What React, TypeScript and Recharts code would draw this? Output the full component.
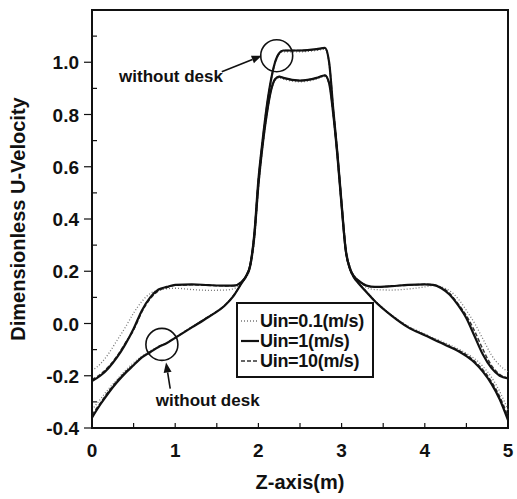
import { Label, Line, LineChart, ReferenceArea, ReferenceDot, ReferenceLine, XAxis, YAxis } from 'recharts'

const FONT = '"Liberation Sans", Arial, sans-serif'

// Z-axis stations (m); denser on the steep walls of the jet
const zAxis = [
  0, 0.1, 0.2, 0.3, 0.4, 0.5, 0.6, 0.7, 0.8, 0.9, 1.0, 1.2, 1.4, 1.6, 1.7, 1.8, 1.85, 1.9, 1.95, 2.0,
  2.05, 2.1, 2.15, 2.2, 2.25, 2.3, 2.5, 2.7, 2.8, 2.85, 2.9, 2.95, 3.0, 3.05, 3.1, 3.15, 3.2, 3.3, 3.4,
  3.6, 3.8, 4.0, 4.1, 4.2, 4.3, 4.4, 4.5, 4.6, 4.7, 4.8, 4.9, 5.0,
]

// with desk (upper shoulders, lower plateau)
const deskU01 = [
  -0.18, -0.155, -0.115, -0.065, -0.015, 0.04, 0.085, 0.115, 0.128, 0.133, 0.135, 0.13, 0.127, 0.128,
  0.133, 0.155, 0.175, 0.21, 0.31, 0.51, 0.67, 0.79, 0.885, 0.93, 0.94, 0.935, 0.925, 0.935, 0.945,
  0.915, 0.81, 0.65, 0.47, 0.3, 0.22, 0.185, 0.165, 0.138, 0.13, 0.128, 0.132, 0.14, 0.145, 0.14,
  0.125, 0.095, 0.05, 0.0, -0.06, -0.12, -0.16, -0.185,
]
const deskU1 = [
  -0.22, -0.2, -0.17, -0.13, -0.08, -0.02, 0.05, 0.1, 0.13, 0.14, 0.148, 0.15, 0.147, 0.145, 0.145,
  0.16, 0.18, 0.22, 0.33, 0.53, 0.68, 0.8, 0.89, 0.935, 0.945, 0.94, 0.93, 0.94, 0.95, 0.92, 0.8,
  0.64, 0.45, 0.28, 0.21, 0.18, 0.165, 0.145, 0.14, 0.143, 0.148, 0.15, 0.148, 0.135, 0.11, 0.07,
  0.02, -0.05, -0.12, -0.17, -0.2, -0.21,
]
const deskU10 = [
  -0.215, -0.195, -0.165, -0.125, -0.075, -0.025, 0.045, 0.095, 0.125, 0.138, 0.146, 0.148, 0.146,
  0.144, 0.145, 0.16, 0.18, 0.22, 0.33, 0.53, 0.68, 0.8, 0.89, 0.935, 0.945, 0.94, 0.93, 0.94, 0.95,
  0.92, 0.8, 0.64, 0.45, 0.28, 0.21, 0.18, 0.165, 0.145, 0.14, 0.143, 0.147, 0.15, 0.148, 0.137,
  0.115, 0.075, 0.03, -0.03, -0.1, -0.16, -0.195, -0.21,
]

// without desk (lower shoulders, upper plateau)
const openU01 = [
  -0.33, -0.29, -0.25, -0.215, -0.18, -0.15, -0.125, -0.105, -0.088, -0.072, -0.053, -0.013, 0.027,
  0.072, 0.107, 0.155, 0.178, 0.215, 0.33, 0.54, 0.69, 0.82, 0.92, 0.995, 1.03, 1.04, 1.04, 1.045,
  1.05, 0.99, 0.82, 0.66, 0.47, 0.29, 0.215, 0.18, 0.157, 0.122, 0.088, 0.033, -0.01, -0.04, -0.055,
  -0.068, -0.082, -0.097, -0.115, -0.135, -0.165, -0.205, -0.26, -0.33,
]
const openU1 = [
  -0.36, -0.31, -0.265, -0.225, -0.19, -0.16, -0.13, -0.11, -0.09, -0.075, -0.055, -0.015, 0.025,
  0.07, 0.105, 0.155, 0.18, 0.22, 0.34, 0.55, 0.7, 0.83, 0.93, 1.0, 1.035, 1.045, 1.045, 1.05, 1.055,
  1.0, 0.82, 0.65, 0.46, 0.28, 0.21, 0.175, 0.155, 0.12, 0.085, 0.03, -0.015, -0.045, -0.06, -0.075,
  -0.09, -0.105, -0.125, -0.15, -0.185, -0.23, -0.29, -0.37,
]
const openU10 = [
  -0.35, -0.305, -0.26, -0.22, -0.187, -0.157, -0.128, -0.108, -0.089, -0.074, -0.054, -0.014, 0.026,
  0.071, 0.107, 0.156, 0.18, 0.22, 0.34, 0.55, 0.7, 0.83, 0.93, 1.0, 1.035, 1.045, 1.045, 1.05, 1.055,
  1.0, 0.82, 0.65, 0.46, 0.28, 0.21, 0.176, 0.156, 0.121, 0.086, 0.031, -0.013, -0.043, -0.058,
  -0.072, -0.087, -0.102, -0.12, -0.145, -0.178, -0.222, -0.28, -0.355,
]

const xTicks = [0, 0.5, 1, 1.5, 2, 2.5, 3, 3.5, 4, 4.5, 5]
const xLabels = [0, 1, 2, 3, 4, 5]
const yTicks = [-0.4, -0.3, -0.2, -0.1, 0, 0.1, 0.2, 0.3, 0.4, 0.5, 0.6, 0.7, 0.8, 0.9, 1.0, 1.1]
const yLabels = [-0.4, -0.2, 0, 0.2, 0.4, 0.6, 0.8, 1.0]

const legendItems = [
  { name: 'Uin=0.1(m/s)', dash: '1 2', color: '#777', width: 1.3 },
  { name: 'Uin=1(m/s)', dash: undefined, color: '#111', width: 2.2 },
  { name: 'Uin=10(m/s)', dash: '4 2', color: '#333', width: 1.5 },
]

const rows = zAxis.map((z, i) => ({
  z,
  deskU01: deskU01[i],
  deskU1: deskU1[i],
  deskU10: deskU10[i],
  openU01: openU01[i],
  openU1: openU1[i],
  openU10: openU10[i],
}))

const isLabel = (list: number[], v: number) => list.some((t) => Math.abs(t - v) < 1e-6)

function XTick({ x, y, payload }: any) {
  const v = payload.value as number
  return (
    <g>
      <line x1={x} x2={x} y1={y} y2={y - 5} stroke="#111" strokeWidth={1.2} />
      {isLabel(xLabels, v) ? (
        <text x={x} y={y + 29} textAnchor="middle" fontSize={19} fontWeight="bold" fontFamily={FONT} fill="#111">
          {Math.round(v)}
        </text>
      ) : null}
    </g>
  )
}

function YTick({ x, y, payload }: any) {
  const v = payload.value as number
  const major = isLabel(yLabels, v)
  return (
    <g>
      <line x1={x} x2={major ? x - 8 : x + 5} y1={y} y2={y} stroke="#111" strokeWidth={1.2} />
      {major ? (
        <text x={x - 13} y={y + 7} textAnchor="end" fontSize={19} fontWeight="bold" fontFamily={FONT} fill="#111">
          {v.toFixed(1)}
        </text>
      ) : null}
    </g>
  )
}

function Arrow({ x1, y1, x2, y2 }: any) {
  const a = Math.atan2(y2 - y1, x2 - x1)
  const L = 10
  const W = 4
  const bx = x2 - L * Math.cos(a)
  const by = y2 - L * Math.sin(a)
  const px = -Math.sin(a) * W
  const py = Math.cos(a) * W
  return (
    <g>
      <line x1={x1} y1={y1} x2={bx} y2={by} stroke="#111" strokeWidth={1.6} />
      <polygon points={`${x2},${y2} ${bx + px},${by + py} ${bx - px},${by - py}`} fill="#111" />
    </g>
  )
}

function Ring({ cx, cy }: any) {
  return <circle cx={cx} cy={cy} r={16} fill="none" stroke="#111" strokeWidth={1.6} />
}

function Note({ cx, cy }: any) {
  return (
    <text x={cx} y={cy + 6} textAnchor="middle" fontSize={17} fontWeight="bold" fontFamily={FONT} fill="#111">
      without desk
    </text>
  )
}

const series = [
  { key: 'deskU01', item: legendItems[0] },
  { key: 'openU01', item: legendItems[0] },
  { key: 'deskU10', item: legendItems[2] },
  { key: 'openU10', item: legendItems[2] },
  { key: 'deskU1', item: legendItems[1] },
  { key: 'openU1', item: legendItems[1] },
]

export default function App() {
  return (
    <div style={{ position: 'fixed', left: 0, top: 0, width: 517, height: 499, background: '#fff' }}>
      <LineChart width={517} height={499} data={rows} margin={{ top: 10, right: 9, bottom: 31, left: 0 }}>
        <XAxis
          dataKey="z"
          type="number"
          domain={[0, 5]}
          ticks={xTicks}
          interval={0}
          height={40}
          tickSize={0}
          tickMargin={0}
          tickLine={false}
          axisLine={{ stroke: '#111', strokeWidth: 2 }}
          tick={<XTick />}
        >
          <Label
            content={({ viewBox }: any) => (
              <text
                x={viewBox.x + viewBox.width / 2}
                y={viewBox.y + 61}
                textAnchor="middle"
                fontSize={20}
                fontWeight="bold"
                fontFamily={FONT}
                fill="#111"
              >
                Z-axis(m)
              </text>
            )}
          />
        </XAxis>
        <YAxis
          type="number"
          domain={[-0.4, 1.2]}
          ticks={yTicks}
          interval={0}
          width={92}
          tickSize={0}
          tickMargin={0}
          tickLine={false}
          axisLine={{ stroke: '#111', strokeWidth: 2 }}
          tick={<YTick />}
        >
          <Label
            content={({ viewBox }: any) => {
              const cx = viewBox.x + 18
              const cy = viewBox.y + viewBox.height / 2
              return (
                <text
                  x={cx}
                  y={cy}
                  transform={`rotate(-90 ${cx} ${cy})`}
                  textAnchor="middle"
                  dominantBaseline="central"
                  fontSize={20}
                  fontWeight="bold"
                  fontFamily={FONT}
                  fill="#111"
                >
                  Dimensionless U-Velocity
                </text>
              )
            }}
          />
        </YAxis>
        <ReferenceArea x1={0} x2={5} y1={-0.4} y2={1.2} fill="none" stroke="#111" strokeWidth={2} />
        {series.map(({ key, item }) => (
          <Line
            key={key}
            dataKey={key}
            type="monotone"
            stroke={item.color}
            strokeWidth={item.width}
            strokeDasharray={item.dash}
            dot={false}
            activeDot={false}
            isAnimationActive={false}
          />
        ))}
        <ReferenceDot x={2.22} y={1.025} shape={<Ring />} />
        <ReferenceDot x={0.84} y={-0.08} shape={<Ring />} />
        <ReferenceLine segment={[{ x: 1.56, y: 0.964 }, { x: 2.04, y: 1.025 }]} shape={<Arrow />} />
        <ReferenceLine segment={[{ x: 0.94, y: -0.249 }, { x: 0.89, y: -0.149 }]} shape={<Arrow />} />
        <ReferenceDot x={0.95} y={0.948} shape={<Note />} />
        <ReferenceDot x={1.39} y={-0.294} shape={<Note />} />
      </LineChart>
      <div
        style={{
          position: 'absolute',
          left: 236,
          top: 302,
          width: 138,
          height: 76,
          border: '2px solid #111',
          background: '#fff',
          padding: '7px 0 0 3px',
          boxSizing: 'border-box',
          fontFamily: FONT,
          fontWeight: 'bold',
          fontSize: 18,
          color: '#111',
          letterSpacing: -0.3,
        }}
      >
        {legendItems.map((item) => (
          <div key={item.name} style={{ display: 'flex', alignItems: 'center', height: 20 }}>
            <svg width={18} height={10} style={{ marginRight: 1 }}>
              <line x1={0} x2={18} y1={5} y2={5} stroke={item.color} strokeWidth={item.width} strokeDasharray={item.dash} />
            </svg>
            <span>{item.name}</span>
          </div>
        ))}
      </div>
    </div>
  )
}
